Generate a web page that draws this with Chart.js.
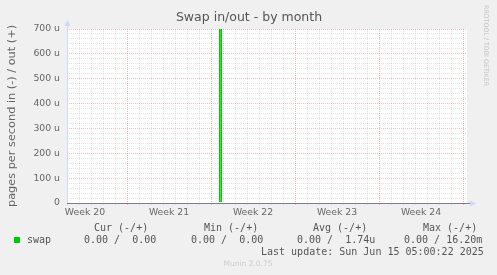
<!DOCTYPE html>
<html>
  <head>
    <meta charset="UTF-8" />
    <title>Swap in/out - by month</title>
    <script src="https://cdn.jsdelivr.net/npm/chart.js"></script>
    <style>
      body {
        margin: 0;
        background: #f0f0f0;
      }

      #wrap {
        position: relative;
        width: 497px;
        height: 275px;
      }
    </style>
  </head>

  <body>
    <div id="wrap"><canvas id="swapGraph"></canvas></div>

    <script>
      // Time axis in days from the left edge of the graph (one month view)
      const days = [0, 12.72, 12.79, 12.86, 33.33];
      // swap out, in micro pages per second (u)
      const swapOut = [0, 0, 16200, 0, 0];

      // Week boundaries (days) and the week labels between them
      const weekStarts = [5, 12, 19, 26, 33];
      const weekNames = ["Week 20", "Week 21", "Week 22", "Week 23", "Week 24"];
      const yMax = 700;

      // Legend / stats table
      const seriesName = "swap";
      const statHeaders = ["Cur (-/+)", "Min (-/+)", "Avg (-/+)", "Max (-/+)"];
      const statValues = ["0.00 /  0.00", "0.00 /  0.00", "0.00 /  1.74u", "0.00 / 16.20m"];
      const lastUpdate = "Last update: Sun Jun 15 05:00:22 2025";

      const GREEN = "#00cc00";
      const MAJOR = "rgba(220, 100, 100, 0.42)";
      const MINOR = "rgba(160, 160, 160, 0.3)";
      const AXIS = "#cfd6f8";

      function isMajorDay(v) {
        return weekStarts.indexOf(v) !== -1;
      }

      // Draw the munin frame: canvas, title, axis lines, stats
      const muninDecor = {
        id: "muninDecor",
        beforeDraw(chart) {
          const { ctx, chartArea: a } = chart;
          ctx.save();
          ctx.fillStyle = "#ffffff";
          ctx.fillRect(a.left, a.top, a.right - a.left, a.bottom - a.top);
          ctx.restore();
        },
        afterDatasetsDraw(chart) {
          const { ctx, chartArea: a } = chart;
          ctx.save();
          // y axis + arrow
          ctx.strokeStyle = AXIS;
          ctx.lineWidth = 1;
          ctx.beginPath();
          ctx.moveTo(a.left + 0.5, a.bottom);
          ctx.lineTo(a.left + 0.5, a.top - 4);
          ctx.stroke();
          ctx.fillStyle = AXIS;
          ctx.beginPath();
          ctx.moveTo(a.left - 2.5, a.top - 3);
          ctx.lineTo(a.left + 3.5, a.top - 3);
          ctx.lineTo(a.left + 0.5, a.top - 9);
          ctx.closePath();
          ctx.fill();
          // x axis arrow
          ctx.beginPath();
          ctx.moveTo(a.right + 3, a.bottom - 2.5);
          ctx.lineTo(a.right + 3, a.bottom + 3.5);
          ctx.lineTo(a.right + 9, a.bottom + 0.5);
          ctx.closePath();
          ctx.fill();
          // zero line
          ctx.strokeStyle = "#7c7c8c";
          ctx.beginPath();
          ctx.moveTo(a.left, a.bottom + 0.5);
          ctx.lineTo(a.right + 3, a.bottom + 0.5);
          ctx.stroke();
          ctx.restore();
        },
        afterDraw(chart) {
          const { ctx } = chart;
          ctx.save();
          ctx.textBaseline = "middle";

          ctx.fillStyle = "#555";
          ctx.font = "12.5px 'DejaVu Sans'";
          ctx.textAlign = "center";
          ctx.fillText("Swap in/out - by month", 249, 18);

          // vertical watermark
          ctx.save();
          ctx.translate(486, 5);
          ctx.rotate(Math.PI / 2);
          ctx.textAlign = "left";
          ctx.fillStyle = "#c4c4c4";
          ctx.font = "6.3px 'DejaVu Sans'";
          ctx.fillText("RRDTOOL / TOBI OETIKER", 0, 0);
          ctx.restore();

          // stats table
          ctx.textAlign = "left";
          ctx.font = "10px 'DejaVu Sans Mono'";
          ctx.fillStyle = "#555";
          const headX = [94, 204, 313, 423];
          const valX = [84, 191, 297, 404];
          statHeaders.forEach((h, i) => ctx.fillText(h, headX[i], 228));
          ctx.fillStyle = GREEN;
          ctx.fillRect(14, 237, 6, 6);
          ctx.fillStyle = "#555";
          ctx.fillText(seriesName, 27, 240);
          statValues.forEach((v, i) => ctx.fillText(v, valX[i], 240));
          ctx.fillText(lastUpdate, 261, 252);

          ctx.textAlign = "center";
          ctx.fillStyle = "#cccccc";
          ctx.font = "7.5px 'DejaVu Sans'";
          ctx.fillText("Munin 2.0.75", 248, 264);
          ctx.restore();
        },
      };

      const ctx = document.getElementById("swapGraph").getContext("2d");
      new Chart(ctx, {
        type: "line",
        data: {
          datasets: [
            {
              label: seriesName,
              data: days.map((d, i) => ({ x: d, y: swapOut[i] })),
              borderColor: GREEN,
              borderWidth: 1.4,
              pointRadius: 0,
              tension: 0,
              fill: false,
              clip: { left: 0, top: 0, right: 0, bottom: -1 },
            },
          ],
        },
        plugins: [muninDecor],
        options: {
          responsive: true,
          maintainAspectRatio: false,
          animation: false,
          layout: { padding: { top: 29, right: 30, bottom: 0, left: 0 } },
          plugins: {
            legend: { display: false },
            title: { display: false },
            tooltip: { enabled: false },
          },
          scales: {
            x: {
              type: "linear",
              min: 0,
              max: days[days.length - 1],
              afterBuildTicks(scale) {
                const t = [];
                for (let d = 0; d <= 33; d++) t.push({ value: d });
                weekStarts.forEach((w) => t.push({ value: w - 3.5 }));
                t.sort((p, q) => p.value - q.value);
                scale.ticks = t;
              },
              afterFit(scale) {
                scale.height = 72;
              },
              ticks: {
                autoSkip: false,
                maxRotation: 0,
                padding: 2,
                color: "#666",
                font: { family: "'DejaVu Sans'", size: 9.3 },
                callback(v) {
                  const i = weekStarts.indexOf(v + 3.5);
                  return i === -1 ? "" : weekNames[i];
                },
              },
              grid: {
                drawTicks: true,
                tickLength: 2,
                color(c) {
                  const v = c.tick.value;
                  if (!Number.isInteger(v)) return "rgba(0,0,0,0)";
                  return isMajorDay(v) ? MAJOR : MINOR;
                },
              },
              border: { display: false, dash: [1, 1] },
            },
            y: {
              min: 0,
              max: yMax,
              afterBuildTicks(scale) {
                const t = [];
                for (let v = 0; v <= yMax; v += 20) t.push({ value: v });
                scale.ticks = t;
              },
              afterFit(scale) {
                scale.width = 67;
              },
              ticks: {
                autoSkip: false,
                padding: 7,
                color: "#666",
                font: { family: "'DejaVu Sans'", size: 9.3 },
                callback(v) {
                  if (v % 100 !== 0) return "";
                  return v === 0 ? "0" : v + " u";
                },
              },
              grid: {
                drawTicks: false,
                color(c) {
                  return c.tick.value % 100 === 0 ? MAJOR : MINOR;
                },
              },
              border: { display: false, dash: [1, 1] },
              title: {
                display: true,
                text: "pages per second in (-) / out (+)",
                color: "#666",
                font: { family: "'DejaVu Sans'", size: 11.3 },
                padding: { top: 5, bottom: 0 },
              },
            },
          },
        },
      });
    </script>
  </body>
</html>
